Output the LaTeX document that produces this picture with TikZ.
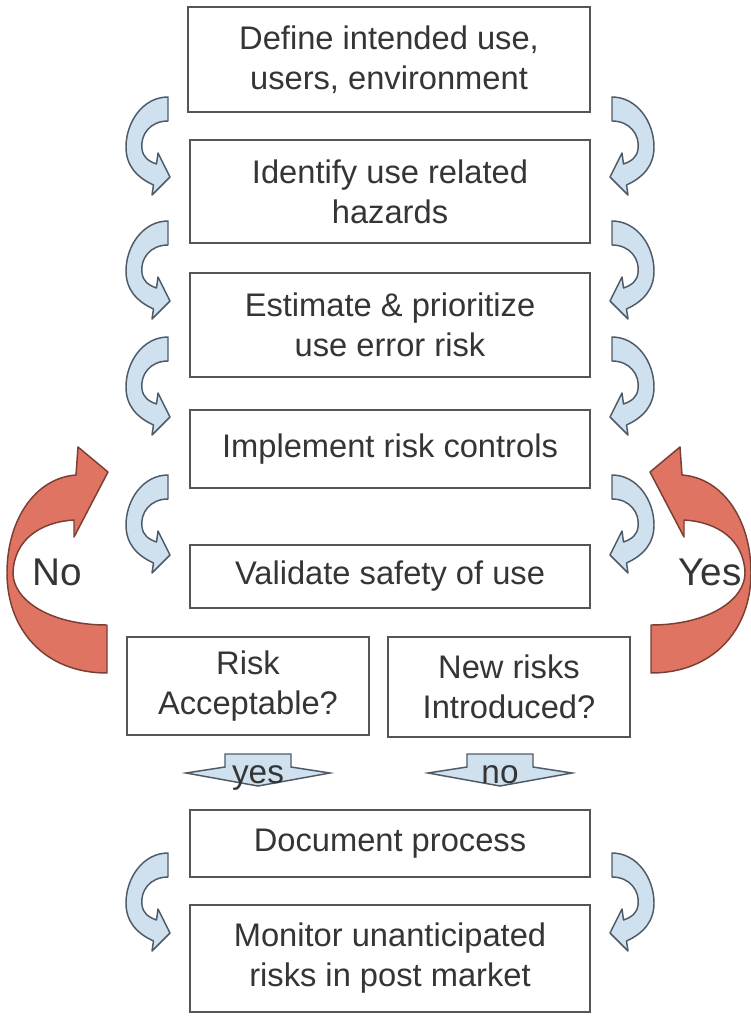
\documentclass[tikz,border=0pt]{standalone}
\usepackage{fontspec}
\setmainfont{Liberation Sans}
\definecolor{boxline}{HTML}{555555}
\definecolor{txtgray}{HTML}{353535}
\definecolor{bluefill}{HTML}{CFE0EE}
\definecolor{blueline}{HTML}{4E5A66}
\definecolor{redfill}{HTML}{E07462}
\definecolor{redline}{HTML}{7A3E34}
\begin{document}
\begin{tikzpicture}[x=0.75pt,y=-0.75pt,
  box/.style={draw=boxline, line width=1.5pt, fill=white, text=txtgray,
    font=\fontsize{24.5}{30}\selectfont, align=center, inner sep=0pt},
  bluearrow/.style={fill=bluefill, draw=blueline, line width=1.1pt, line join=round},
  redarrow/.style={fill=redfill, draw=redline, line width=1.1pt, line join=round},
  downarrow/.style={fill=bluefill, draw=blueline, line width=1.1pt, line join=miter},
  looplabel/.style={text=txtgray, font=\fontsize{29}{34}\selectfont},
  flowlabel/.style={text=txtgray, font=\fontsize{25}{30}\selectfont, anchor=base, inner sep=0pt},
  turnarrow/.pic={
    \path[bluearrow] (0,0) -- (0,24)
      .. controls (-18,24) and (-28,38) .. (-26,52)
      .. controls (-25,60) and (-20,64) .. (-11.5,67)
      -- (-10,56) -- (2,80) -- (-16,98) -- (-14.5,88)
      .. controls (-32,80) and (-42,68) .. (-42,50)
      .. controls (-42,25) and (-25,0) .. cycle;
  },
  looparrow/.pic={
    \path[redarrow] (0,0) -- (0,48)
      .. controls (-62,48) and (-100,5) .. (-100,-52)
      .. controls (-100,-105) and (-72,-147) .. (-31,-150)
      -- (-29,-178) -- (1,-153) -- (-33,-88) -- (-33,-105)
      .. controls (-67,-103) and (-93,-85) .. (-94,-52)
      .. controls (-94,-25) and (-57,0) .. cycle;
  }]
\useasboundingbox[fill=white] (0,0) rectangle (750,1020);

% process steps
\node[box, minimum width=301.5pt, minimum height=78.75pt] (b1) at (389,59.5)
  {Define intended use,\\users, environment};
\node[box, minimum width=300pt, minimum height=77.25pt] (b2) at (390,191.5)
  {Identify use related\\hazards};
\node[box, minimum width=300pt, minimum height=78pt] (b3) at (390,325)
  {Estimate \& prioritize\\use error risk};
\node[box, minimum width=300pt, minimum height=58.5pt] (b4) at (390,449)
  {Implement risk controls};
\node[box, minimum width=300pt, minimum height=47.25pt] (b5) at (390,576.5)
  {Validate safety of use};
\node[box, minimum width=181.5pt, minimum height=73.5pt] (b6) at (248,686)
  {Risk\\Acceptable?};
\node[box, minimum width=181.5pt, minimum height=75pt] (b7) at (509,686.5)
  {New risks\\Introduced?};
\node[box, minimum width=300pt, minimum height=50.25pt] (b8) at (390,843.5)
  {Document process};
\node[box, minimum width=300pt, minimum height=80.25pt] (b9) at (390,958.5)
  {Monitor unanticipated\\risks in post market};

% turning arrows between consecutive steps
\foreach \yy in {97,221,337,475,853} {
  \pic at (168,\yy) {turnarrow};
  \pic[xscale=-1] at (612,\yy) {turnarrow};
}

% feedback loops
\pic at (107,625) {looparrow};
\pic[xscale=-1] at (651,625) {looparrow};
\node[looplabel] (no) at (57,572) {No};
\node[looplabel] (yes) at (710,572) {Yes};

% decision outcomes
\path[downarrow] (225,754) -- (291,754) -- (291,767) -- (330,773) -- (258,786)
  -- (186,773) -- (225,767) -- cycle;
\path[downarrow] (467,754) -- (533,754) -- (533,767) -- (572,773) -- (500,786)
  -- (428,773) -- (467,767) -- cycle;
\node[flowlabel] (yeslbl) at (258,783) {yes};
\node[flowlabel] (nolbl) at (500,783) {no};
\end{tikzpicture}
\end{document}
